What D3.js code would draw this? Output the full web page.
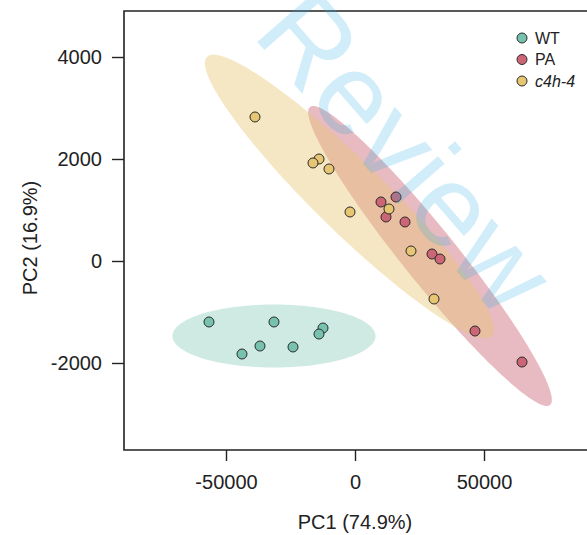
<!DOCTYPE html>
<html>
<head>
<meta charset="utf-8">
<script src="https://cdn.jsdelivr.net/npm/d3@7"></script>
<style>
  body { margin: 0; background: #fff; }
  svg { display: block; font-family: "Liberation Sans", Arial, sans-serif; }
</style>
</head>
<body>
<div id="plot"></div>
<script>
"use strict";

// groups and colours
const groups = ["WT", "PA", "c4h-4"];
const pointColors = ["#76c2ae", "#cc6676", "#e6c673"];

// PCA scores
const wtPC1 = [-56590, -31396, -12403, -13954, -36822, -24031, -43799];
const wtPC2 = [-1196, -1196, -1314, -1432, -1667, -1686, -1824];
const paPC1 = [10078, 15892, 12016, 19380, 29845, 32946, 46512, 64729];
const paPC2 = [1157, 1255, 863, 765, 137, 39, -1373, -1981];
const c4hPC1 = [-38760, -13954, -16279, -10078, -1938, 13178, 21706, 30620];
const c4hPC2 = [2824, 2000, 1922, 1804, 961, 1020, 196, -745];

// confidence ellipses: centre and two semi-axis vectors, in data units
const ellipseCenter = [[-31396, -1471], [29070, 98], [-2132, 1265]];
const ellipseAxisA = [[39341, 0], [46512, -2922], [55233, -2736]];
const ellipseAxisB = [[0, 618], [-8170, -333], [-9500, -490]];
const ellipseOpacity = [0.35, 0.45, 0.42];

const xTicks = [-50000, 0, 50000];
const yTicks = [-2000, 0, 2000, 4000];

const msm = {
    width: 587,
    height: 535,
    left: 124,
    top: 11,
    right: 590,
    bottom: 450
};

const svg = d3.select("#plot")
    .append("svg")
    .attr("width", msm.width)
    .attr("height", msm.height);

const xScale = d3.scaleLinear()
    .domain([-89535, 91085])
    .range([msm.left, msm.right]);

const yScale = d3.scaleLinear()
    .domain([-3706, 4902])
    .range([msm.bottom, msm.top]);

// ellipses
const ellipseLine = d3.line().curve(d3.curveLinearClosed);
const ellipseG = svg.append("g");
groups.forEach((g, i) => {
    let pts = d3.range(0, 360, 2).map(deg => {
        let t = deg * Math.PI / 180;
        let vx = ellipseCenter[i][0] + ellipseAxisA[i][0] * Math.cos(t) + ellipseAxisB[i][0] * Math.sin(t);
        let vy = ellipseCenter[i][1] + ellipseAxisA[i][1] * Math.cos(t) + ellipseAxisB[i][1] * Math.sin(t);
        return [xScale(vx), yScale(vy)];
    });
    ellipseG.append("path")
        .attr("d", ellipseLine(pts))
        .attr("fill", pointColors[i])
        .attr("fill-opacity", ellipseOpacity[i])
        .attr("stroke", "none");
});

// points
const series = [[wtPC1, wtPC2], [paPC1, paPC2], [c4hPC1, c4hPC2]];
series.forEach((s, i) => {
    svg.append("g")
        .selectAll("circle")
        .data(s[0].map((v, k) => [v, s[1][k]]))
        .enter()
        .append("circle")
        .attr("cx", d => xScale(d[0]))
        .attr("cy", d => yScale(d[1]))
        .attr("r", 5)
        .attr("fill", pointColors[i])
        .attr("stroke", "#2b2b2b")
        .attr("stroke-width", 1);
});

// frame (right side runs off the picture)
svg.append("path")
    .attr("d", "M" + (msm.right + 5) + "," + msm.top + "H" + msm.left + "V" + msm.bottom + "H" + (msm.right + 5))
    .attr("fill", "none")
    .attr("stroke", "#222")
    .attr("stroke-width", 1.6);

// axes, plain hyphen for negatives
const fmt = d => String(d);
const xAxis = svg.append("g")
    .attr("transform", "translate(0," + msm.bottom + ")")
    .call(d3.axisBottom(xScale).tickValues(xTicks).tickSize(11).tickPadding(14).tickFormat(fmt));
const yAxis = svg.append("g")
    .attr("transform", "translate(" + msm.left + ",0)")
    .call(d3.axisLeft(yScale).tickValues(yTicks).tickSize(12).tickPadding(10).tickFormat(fmt));
[xAxis, yAxis].forEach(a => {
    a.select(".domain").remove();
    a.selectAll("line").attr("stroke", "#222").attr("stroke-width", 1.4);
    a.selectAll("text")
        .attr("fill", "#222")
        .style("font-size", "20px")
        .style("font-family", "'Liberation Sans', Arial, sans-serif");
});

// axis titles
svg.append("text")
    .attr("x", xScale(0))
    .attr("y", 529)
    .attr("text-anchor", "middle")
    .attr("fill", "#222")
    .style("font-size", "20px")
    .text("PC1 (74.9%)");

svg.append("text")
    .attr("transform", "translate(37," + 238 + ") rotate(-90)")
    .attr("text-anchor", "middle")
    .attr("fill", "#222")
    .style("font-size", "20px")
    .text("PC2 (16.9%)");

// legend
const legend = svg.append("g");
legend.selectAll("circle")
    .data(groups)
    .enter()
    .append("circle")
    .attr("cx", 522)
    .attr("cy", (d, i) => 38 + i * 21.5)
    .attr("r", 5)
    .attr("fill", (d, i) => pointColors[i])
    .attr("stroke", "#2b2b2b")
    .attr("stroke-width", 1);
legend.selectAll("text")
    .data(groups)
    .enter()
    .append("text")
    .attr("x", 535)
    .attr("y", (d, i) => 38 + i * 21.5)
    .attr("dy", "0.35em")
    .attr("fill", "#222")
    .style("font-size", "16px")
    .style("font-style", (d, i) => i === 2 ? "italic" : "normal")
    .text(d => d);

// review watermark
svg.append("text")
    .attr("transform", "translate(406,152) rotate(49)")
    .attr("text-anchor", "middle")
    .attr("dominant-baseline", "central")
    .attr("fill", "#29abe2")
    .attr("fill-opacity", 0.22)
    .style("font-size", "116px")
    .text("Review");
</script>
</body>
</html>
